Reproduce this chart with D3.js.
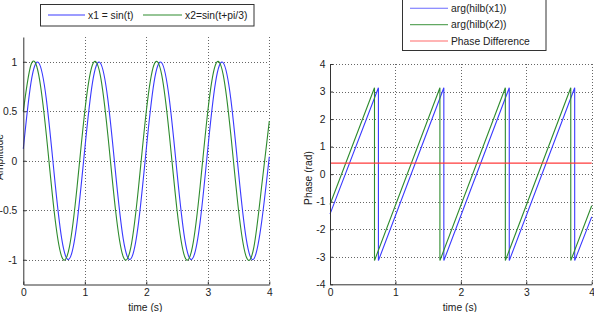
<!DOCTYPE html>
<html>
<head>
<meta charset="utf-8">
<script src="https://cdn.jsdelivr.net/npm/d3@7"></script>
<style>
    body { margin: 0; background: #fff; }
    svg { display: block; font-family: "Liberation Sans", Arial, sans-serif; }
    .tick text { font-size: 10.3px; fill: #222; }
    .grid line { stroke: #666; stroke-dasharray: 1,2; shape-rendering: crispEdges; }
</style>
</head>
<body>
<div id="chart"></div>
<script>

// ---- data ----

// left panel: two sines, sampled every 0.125 s
let sigTime = [0, 0.125, 0.25, 0.375, 0.5, 0.625, 0.75, 0.875,
    1, 1.125, 1.25, 1.375, 1.5, 1.625, 1.75, 1.875,
    2, 2.125, 2.25, 2.375, 2.5, 2.625, 2.75, 2.875,
    3, 3.125, 3.25, 3.375, 3.5, 3.625, 3.75, 3.875, 4];

let x1Values = [0.12, 0.79, 0.99, 0.62, -0.12, -0.79, -0.99, -0.62,
    0.12, 0.79, 0.99, 0.62, -0.12, -0.79, -0.99, -0.62,
    0.12, 0.79, 0.99, 0.62, -0.12, -0.79, -0.99, -0.62,
    0.12, 0.79, 0.99, 0.62, -0.12, -0.79, -0.99, -0.62, 0.04];

let x2Values = [0.50, 0.97, 0.87, 0.26, -0.50, -0.97, -0.87, -0.26,
    0.50, 0.97, 0.87, 0.26, -0.50, -0.97, -0.87, -0.26,
    0.50, 0.97, 0.87, 0.26, -0.50, -0.97, -0.87, -0.26,
    0.50, 0.97, 0.87, 0.26, -0.50, -0.97, -0.87, -0.26, 0.40];

// right panel: wrapped phases (corner points of the sawtooth)
let phase1Time = [0, 0.74, 0.74, 1.74, 1.74, 2.74, 2.74, 3.74, 3.74, 4];
let phase1Values = [-1.45, 3.14, -3.14, 3.14, -3.14, 3.14, -3.14, 3.14, -3.14, -1.55];

let phase2Time = [0, 0.68, 0.68, 1.68, 1.68, 2.68, 2.68, 3.68, 3.68, 4];
let phase2Values = [-1.10, 3.14, -3.14, 3.14, -3.14, 3.14, -3.14, 3.14, -3.14, -1.15];

let diffTime = [0, 4];
let diffValues = [0.40, 0.40];

let timeTicks = [0, 1, 2, 3, 4];
let ampTicks = [-1, -0.5, 0, 0.5, 1];
let phaseTicks = [-4, -3, -2, -1, 0, 1, 2, 3, 4];

let leftLegend = ["x1 = sin(t)", "x2=sin(t+pi/3)"];
let rightLegend = ["arg(hilb(x1))", "arg(hilb(x2))", "Phase Difference"];

let colors = {blue: "#3a3aff", green: "#2e8b2e", red: "#ff3a3a"};

// ---- drawing ----

let svg = d3.select("#chart").append("svg")
    .attr("width", 594)
    .attr("height", 312);

function zip(xs, ys) {
    return xs.map((x, i) => ({x: x, y: ys[i]}));
}

// plain labels like matlab: "1", "0.5", "-1" (ascii hyphen)
let plainFormat = d => String(d);

function drawPanel(cfg) {
    let g = svg.append("g");

    let x = d3.scaleLinear().domain([0, 4]).range([cfg.left, cfg.right]);
    let y = d3.scaleLinear().domain(cfg.yDomain).range([cfg.bottom, cfg.top]);

    // dotted grid
    let grid = g.append("g").attr("class", "grid");
    grid.selectAll(".v").data(timeTicks.filter(d => d > 0)).enter().append("line")
        .attr("x1", d => Math.round(x(d)) + 0.5).attr("x2", d => Math.round(x(d)) + 0.5)
        .attr("y1", cfg.top).attr("y2", cfg.bottom);
    grid.selectAll(".h").data(cfg.yTicks.filter(d => y(d) < cfg.bottom - 1)).enter().append("line")
        .attr("x1", cfg.left).attr("x2", cfg.right)
        .attr("y1", d => Math.round(y(d)) + 0.5).attr("y2", d => Math.round(y(d)) + 0.5);

    // series
    cfg.series.forEach(s => {
        g.append("path")
            .datum(zip(s.t, s.v))
            .attr("fill", "none")
            .attr("stroke", s.color)
            .attr("stroke-width", 1.1)
            .attr("d", d3.line().x(d => x(d.x)).y(d => y(d.y)).curve(s.curve || d3.curveLinear));
    });

    // axes, ticks pointing inward
    let xAxis = g.append("g")
        .attr("transform", `translate(0, ${cfg.bottom})`)
        .call(d3.axisBottom(x).tickValues(timeTicks).tickFormat(plainFormat)
            .tickSize(-3).tickPadding(4).tickSizeOuter(0));
    let yAxis = g.append("g")
        .attr("transform", `translate(${cfg.left}, 0)`)
        .call(d3.axisLeft(y).tickValues(cfg.yTicks).tickFormat(plainFormat)
            .tickSize(-3).tickPadding(cfg.yPad).tickSizeOuter(0));

    [xAxis, yAxis].forEach(a => {
        a.selectAll(".domain").attr("stroke", "#333");
        a.selectAll(".tick line").attr("stroke", "#333");
    });

    // axis titles
    g.append("text")
        .attr("x", (cfg.left + cfg.right) / 2 - 1)
        .attr("y", 311)
        .attr("text-anchor", "middle")
        .attr("font-size", "10.3px")
        .attr("fill", "#222")
        .text("time (s)");
    g.append("text")
        .attr("transform", `translate(${cfg.yLabelX}, ${cfg.yLabelY}) rotate(-90)`)
        .attr("text-anchor", "middle")
        .attr("font-size", "10.3px")
        .attr("fill", "#222")
        .text(cfg.yLabel);
}

drawPanel({
    left: 23.3, right: 269.3, top: 37, bottom: 284.5,
    yDomain: [-1.25, 1.25], yTicks: ampTicks, yPad: 6,
    yLabel: "Amplitude", yLabelX: 3, yLabelY: 157,
    series: [
        {t: sigTime, v: x1Values, color: colors.blue, curve: d3.curveNatural},
        {t: sigTime, v: x2Values, color: colors.green, curve: d3.curveNatural}
    ]
});

drawPanel({
    left: 330, right: 591.7, top: 64, bottom: 284.3,
    yDomain: [-4, 4], yTicks: phaseTicks, yPad: 4.5,
    yLabel: "Phase (rad)", yLabelX: 312, yLabelY: 178,
    series: [
        {t: phase1Time, v: phase1Values, color: colors.blue},
        {t: phase2Time, v: phase2Values, color: colors.green},
        {t: diffTime, v: diffValues, color: colors.red}
    ]
});

// left legend (one row)
let legL = svg.append("g");
legL.append("rect")
    .attr("x", 40.5).attr("y", 4.5).attr("width", 213.5).attr("height", 21.5)
    .attr("fill", "#fff").attr("stroke", "#333");
let legLItems = [
    {label: leftLegend[0], color: colors.blue, x0: 48, x1: 85, tx: 88},
    {label: leftLegend[1], color: colors.green, x0: 143, x1: 182, tx: 185}
];
legLItems.forEach(d => {
    legL.append("line").attr("x1", d.x0).attr("x2", d.x1).attr("y1", 15).attr("y2", 15)
        .attr("stroke", d.color).attr("stroke-width", 1.1);
    legL.append("text").attr("x", d.tx).attr("y", 15).attr("dy", "0.35em")
        .attr("font-size", "10.3px").attr("fill", "#222").text(d.label);
});

// right legend (stacked)
let legR = svg.append("g");
legR.append("rect")
    .attr("x", 402.5).attr("y", -1.5).attr("width", 143.5).attr("height", 52)
    .attr("fill", "#fff").attr("stroke", "#333");
let rightColors = [colors.blue, colors.green, colors.red];
rightLegend.forEach((label, i) => {
    let ly = 8.3 + i * 16.35;
    legR.append("line").attr("x1", 410).attr("x2", 448).attr("y1", ly).attr("y2", ly)
        .attr("stroke", rightColors[i]).attr("stroke-width", 1.1).attr("opacity", 0.75);
    legR.append("text").attr("x", 451).attr("y", ly).attr("dy", "0.35em")
        .attr("font-size", "10.3px").attr("fill", "#222").text(label);
});

</script>
</body>
</html>
